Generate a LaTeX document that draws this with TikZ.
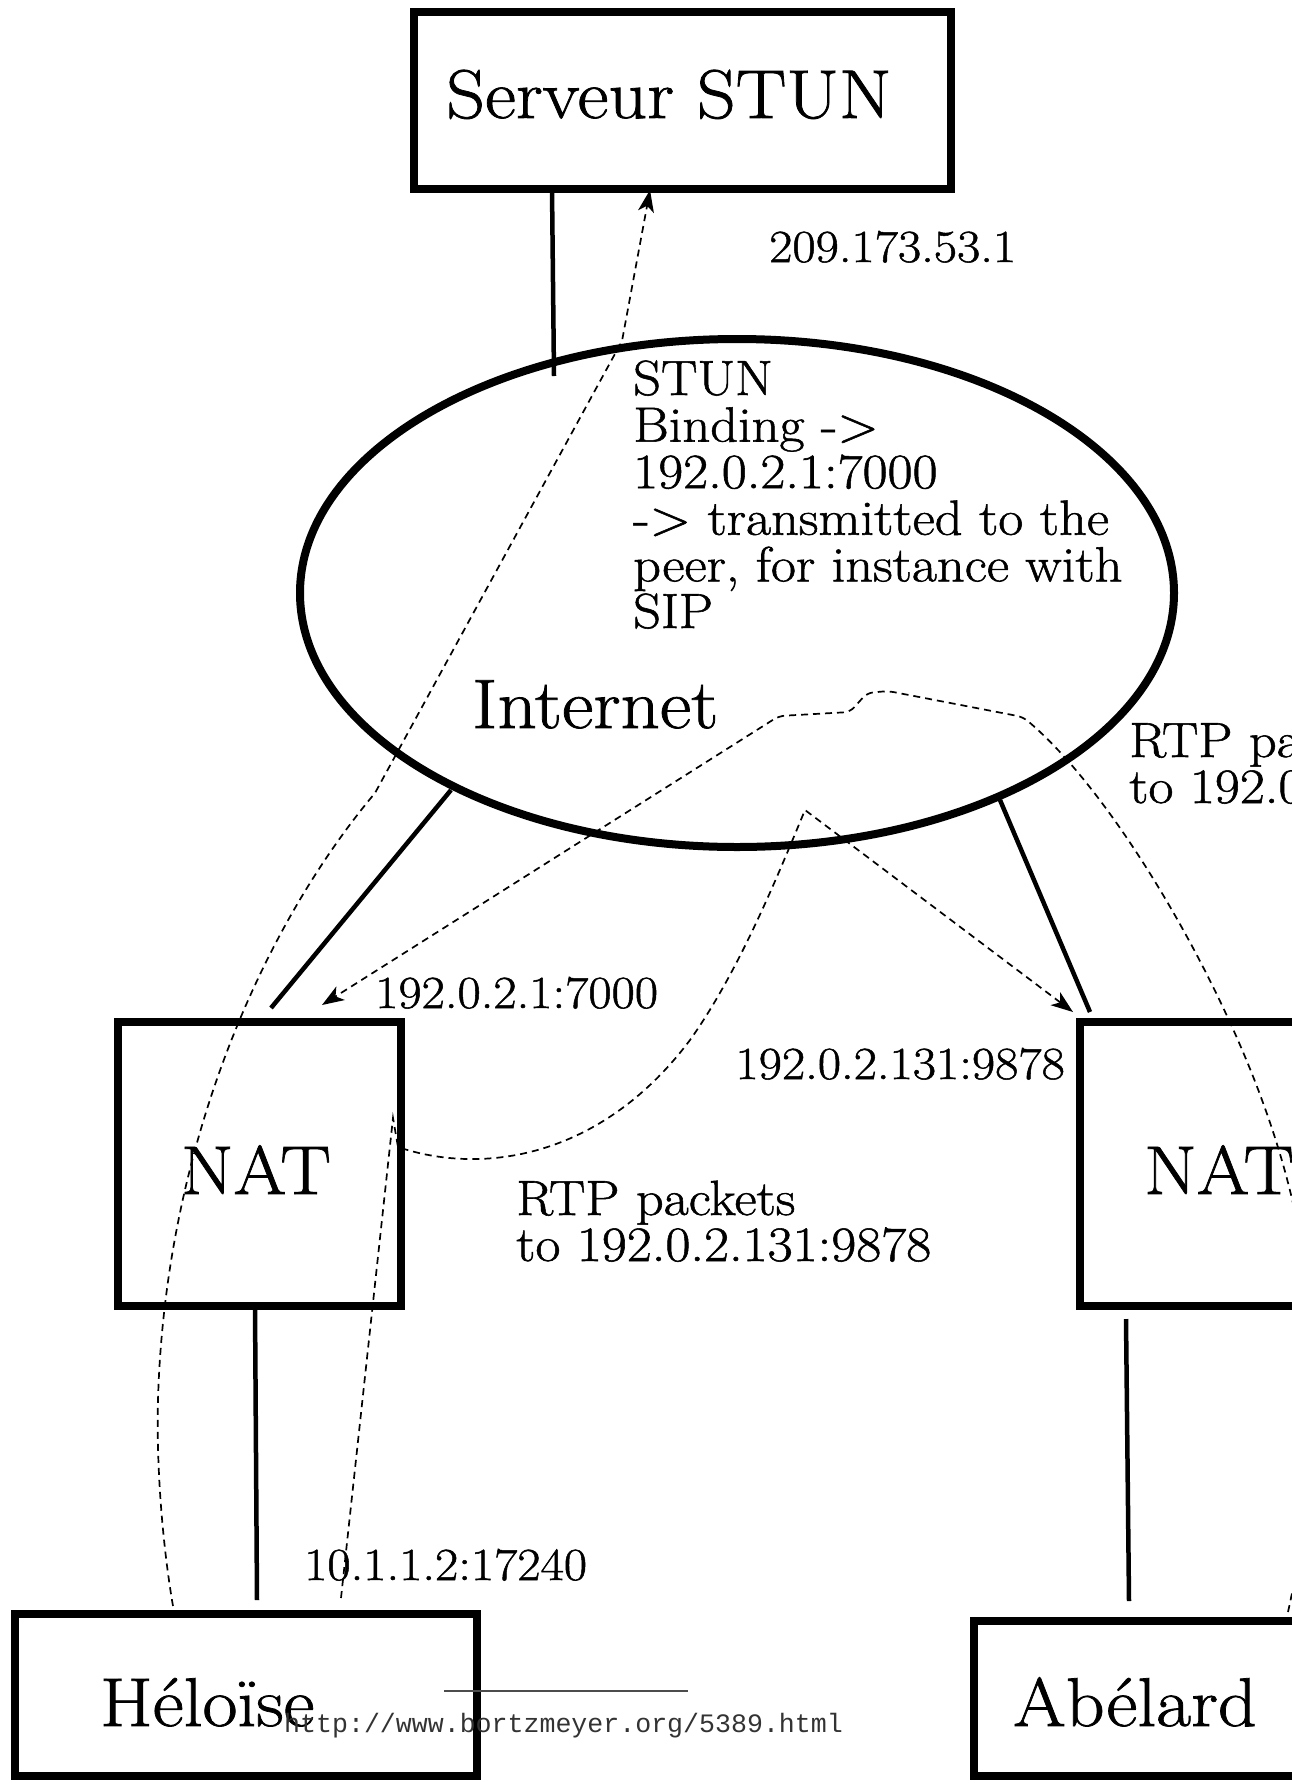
\documentclass[tikz,border=0pt]{standalone}
\usepackage{fontspec}
\setmainfont{Latin Modern Roman}[FakeStretch=1.1, FakeBold=1.1]
\newfontfamily\urlfont{Liberation Mono}
\usetikzlibrary{arrows.meta,shapes.geometric}
\tikzset{
  boxnode/.style={draw, line width=8pt, inner sep=0pt},
  link/.style={line width=4.5pt},
  flow/.style={line width=1.7pt, dash pattern=on 7pt off 5pt},
  tip/.style={-{Stealth[length=22pt,width=16pt,inset=6pt]}},
  big/.style={font=\fontsize{69}{80}\selectfont, inner sep=0pt},
  note/.style={font=\fontsize{49.5}{50}\selectfont, inner sep=0pt, anchor=base west},
  lbl/.style={font=\fontsize{46}{50}\selectfont, inner sep=0pt},
}
\begin{document}
\begin{tikzpicture}[x=1pt,y=-1pt]
\fill[white] (0,0) rectangle (1292,1783);
\useasboundingbox (0,0) rectangle (1292,1783);

% boxes and cloud
\node[boxnode, minimum width=537pt, minimum height=177pt] (stun) at (682.5,100.5) {};
\node[draw, ellipse, line width=8pt, minimum width=874pt, minimum height=508pt, inner sep=0pt] (net) at (737,593) {};
\node[boxnode, minimum width=283pt, minimum height=284pt] (natl) at (259.5,1164) {};
\node[boxnode, minimum width=283pt, minimum height=284pt] (natr) at (1221.5,1164) {};
\node[boxnode, minimum width=462pt, minimum height=162pt] (helo) at (246,1695) {};
\node[boxnode, minimum width=458pt, minimum height=155pt] (abel) at (1203,1698.5) {};

% texts
\node[big, anchor=base] (stuntxt) at (669,118) {Serveur STUN};
\node[lbl, anchor=base west] (stunip) at (769,262) {209.173.53.1};
\node[note] (b1) at (633,395) {STUN};
\node[note] (b2) at (633,441.6) {Binding ->};
\node[note] (b3) at (633,488.2) {192.0.2.1:7000};
\node[note] (b4) at (633,534.8) {-> transmitted to the};
\node[note] (b5) at (633,581.4) {peer, for instance with};
\node[note] (b6) at (633,628) {SIP};
\node[font=\fontsize{70}{80}\selectfont, inner sep=0pt, anchor=base west] (nettxt) at (472,728) {Internet};
\node[note] (r1) at (1129,757) {RTP packets};
\node[note] (r2) at (1129,803) {to 192.0.2.1:7000};
\node[lbl, anchor=base west] (ipl) at (375,1008) {192.0.2.1:7000};
\node[lbl, anchor=base east] (ipr) at (1065,1079) {192.0.2.131:9878};
\node[note] (l1) at (516,1215) {RTP packets};
\node[note] (l2) at (516,1261) {to 192.0.2.131:9878};
\node[lbl, anchor=base west] (ipp) at (304,1580) {10.1.1.2:17240};
\node[big, anchor=base] (natltxt) at (256,1194) {NAT};
\node[big, anchor=base west] (natrtxt) at (1144,1194) {NAT};
\node[big, anchor=base west] (helotxt) at (100,1726) {Héloïse};
\node[big, anchor=base west] (abeltxt) at (1013,1726) {Abélard};

% solid links
\coordinate (s1) at (552,189);  \coordinate (s2) at (554,376);
\coordinate (s3) at (451,790);  \coordinate (s4) at (271,1008);
\coordinate (s5) at (1000,800); \coordinate (s6) at (1090,1012);
\coordinate (s7) at (255,1306); \coordinate (s8) at (257,1600);
\coordinate (s9) at (1126,1319); \coordinate (s10) at (1129,1601);
\draw[link] (s1) -- (s2);
\draw[link] (s3) -- (s4);
\draw[link] (s5) -- (s6);
\draw[link] (s7) -- (s8);
\draw[link] (s9) -- (s10);

% dashed flows
\coordinate (a0) at (173,1606);
\coordinate (a1) at (375,793);
\coordinate (a2) at (622,341);
\coordinate (a3) at (650,190);
\draw[flow, tip] (a0) .. controls (165,1560) and (156,1480) .. (158,1400)
  .. controls (165,1150) and (260,930) .. (a1) -- (a2) -- (a3);

\coordinate (c0) at (341,1598);
\coordinate (c1) at (393,1118);
\coordinate (c2) at (398,1147);
\coordinate (c3) at (805,810);
\coordinate (c4) at (1073,1012);
\draw[flow, tip] (c0) -- (c1) -- (c2) .. controls (480,1175) and (600,1160) .. (690,1040)
  .. controls (740,970) and (780,870) .. (c3) -- (c4);

\coordinate (d0) at (1288,1612);
\coordinate (d1) at (1023,717);
\coordinate (d2) at (322,1005);
\draw[flow, tip, rounded corners=6pt] (d0) .. controls (1330,1420) and (1320,1260) .. (1262,1100)
  .. controls (1210,960) and (1110,790) .. (d1) -- (888,691) -- (867,693) -- (850,712) -- (779,716) -- (d2);

% footer
\coordinate (u0) at (444,1691); \coordinate (u1) at (688,1691);
\draw[line width=2pt, black!70] (u0) -- (u1);
\node[font=\urlfont\fontsize{26.6}{30}\selectfont, text=black!80, anchor=base west, inner sep=0pt] (url) at (284,1732) {http://www.bortzmeyer.org/5389.html};
\end{tikzpicture}
\end{document}
